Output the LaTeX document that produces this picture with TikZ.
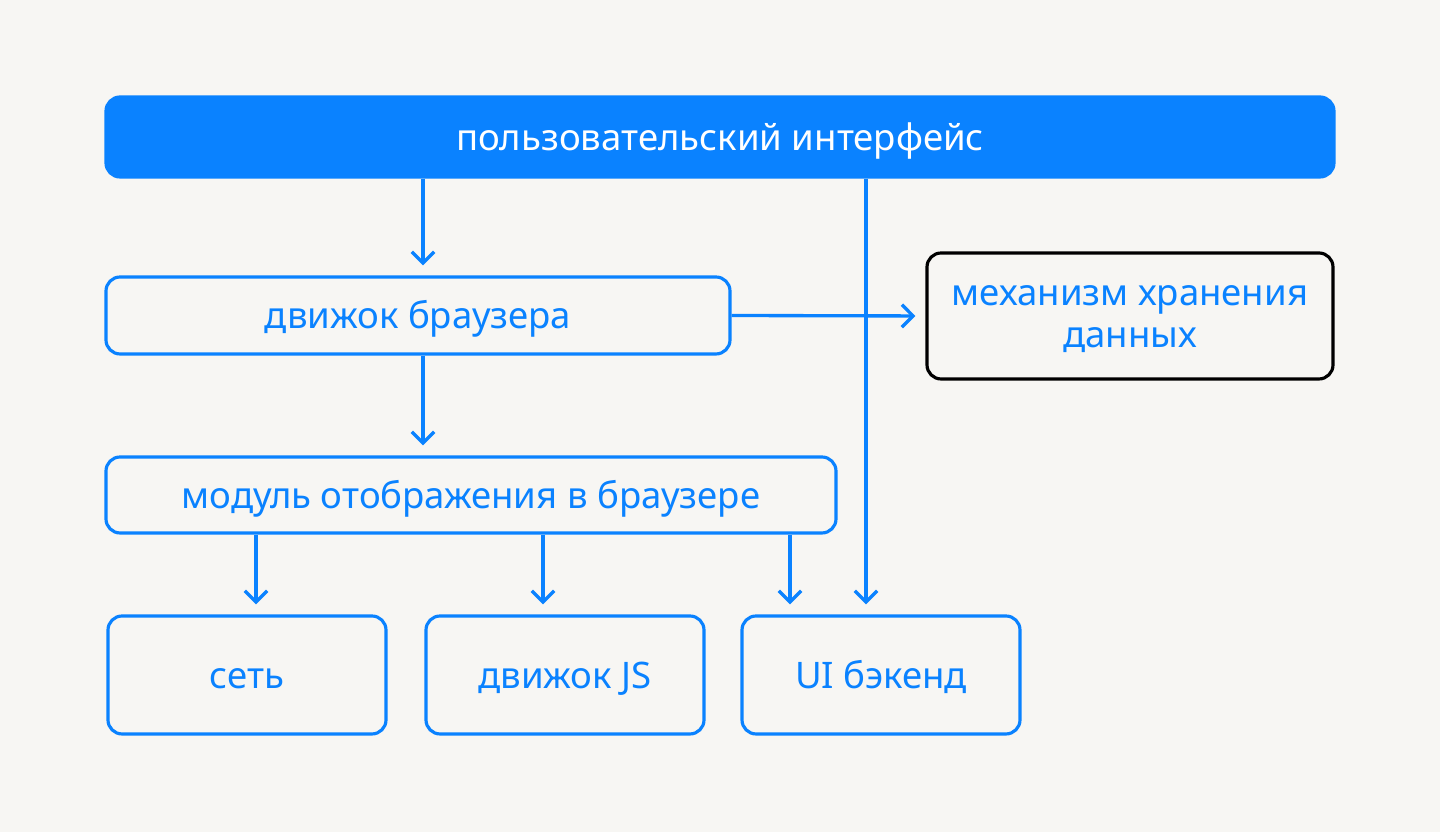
\documentclass[tikz,border=0pt]{standalone}
\usepackage{fontspec}
\setmainfont{Noto Sans}
\usetikzlibrary{arrows.meta,positioning}
\definecolor{uiblue}{HTML}{0A82FF}
\definecolor{paper}{HTML}{F7F6F3}

\begin{document}
\begin{tikzpicture}[
    box/.style={draw=uiblue, line width=0.9pt, rounded corners=4pt, text=uiblue,
      font=\fontsize{10.4}{11.9}\selectfont, align=center, inner sep=0pt,
      text height=1.0em, text depth=0.25em},
    arr/.style={-{Straight Barb[length=3.2pt,width=6.4pt]}, draw=uiblue, line width=0.95pt, shorten >=0.1cm}
  ]
      % Canvas
      \fill[paper] (0,0) rectangle (14.4,8.32);
      \useasboundingbox (0,0) rectangle (14.4,8.32);

      % Top layer
      \node[box, fill=uiblue, text=white, minimum width=12.28cm, minimum height=0.8cm] (ui) at (7.20,6.95) {пользовательский интерфейс};

      % Middle layers
      \node[box, minimum width=6.24cm, minimum height=0.77cm] (engine) at (4.18,5.165) {движок браузера};
      \node[box, draw=black, text height=20.5pt, minimum width=4.06cm, minimum height=1.26cm] (storage) at (11.30,5.16) {механизм хранения\\данных};
      \node[box, minimum width=7.30cm, minimum height=0.76cm] (render) at (4.71,3.37) {модуль отображения в браузере};

      % Bottom layer
      \foreach \x/\n/\t in {2.47/net/сеть, 5.65/js/движок JS, 8.81/backend/UI бэкенд}
        \node[box, minimum width=2.78cm, minimum height=1.18cm] (\n) at (\x,1.57) {\t};

      % Connections
      \draw[arr] (ui.south -| 4.23,0) -- (engine.north -| 4.23,0);
      \draw[arr] (ui.south -| 8.66,0) -- (backend.north -| 8.66,0);
      \draw[arr] (engine.east) -- (storage.west);
      \draw[arr] (engine.south -| 4.23,0) -- (render.north -| 4.23,0);
      \foreach \x/\n in {2.56/net, 5.43/js, 7.90/backend}
        \draw[arr] (render.south -| \x,0) -- (\n.north -| \x,0);
    \end{tikzpicture}
\end{document}
